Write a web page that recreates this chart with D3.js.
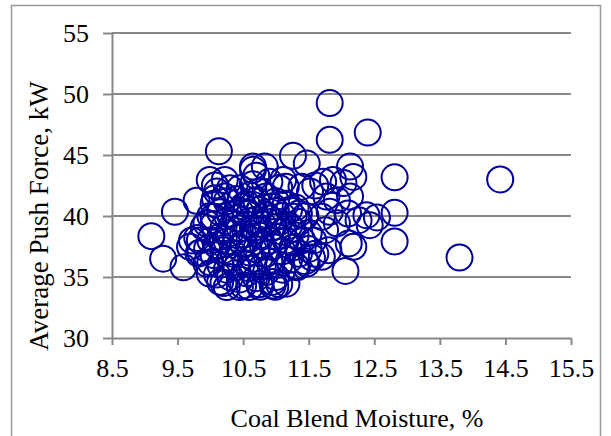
<!DOCTYPE html>
<html>
<head>
<meta charset="utf-8">
<script src="https://cdn.jsdelivr.net/npm/d3@7"></script>
<style>
    body { margin: 0; background: #fff; }
    #chart-area { width: 611px; height: 436px; }
    text { font-family: "Liberation Serif", "Times New Roman", serif; fill: #000; }
</style>
</head>
<body>
<div id="chart-area"></div>
<script>
// Coal blend moisture (%) and average push force (kW)
let moisture = [
    9.1, 9.28, 9.46, 9.59, 9.72, 9.79, 10.13,
    11.82, 11.82, 12.4, 12.81, 12.81, 12.81, 12.54, 12.43, 12.06, 13.8, 14.42,
    11.26, 11.47, 12.18, 12.11, 11.8, 11.7, 11.47, 11.32, 11.16, 10.99, 10.76,
    12.26, 12.38, 11.6, 11.72, 11.87, 12.13, 12.18, 12.03, 11.39, 11.52, 11.77,
    11.93, 12.13, 12.1, 11.93, 11.75, 11.57, 11.82, 11.7, 11.27, 11.11, 10.83,
    10.07, 10.1, 10.07, 9.99, 10.22, 10.22, 10.3, 10.45, 10.65,
    9.69, 9.82, 9.84, 9.94, 9.99, 10.15, 10.25, 10.45, 10.6, 9.94, 10.05,
    10.1, 10.3, 10.45, 10.55, 10.7, 10.85, 10.95, 11.0, 10.2, 10.5, 10.75, 10.95, 11.05,
    10.0, 10.15, 10.3, 10.4, 10.55, 10.65, 10.8, 10.9, 11.05, 11.2, 11.3, 11.45, 11.55, 10.25, 10.6, 11.1,
    9.85, 9.95, 10.05, 10.2, 10.35, 10.45, 10.6, 10.7, 10.85, 10.95, 11.1, 11.25, 11.35, 11.5, 11.6, 10.1, 10.5, 10.8,
    9.8, 10.0, 10.15, 10.25, 10.4, 10.5, 10.6, 10.75, 10.9, 11.0, 11.15, 11.3, 11.4, 11.5, 10.3, 10.7, 11.1, 11.25,
    9.9, 10.05, 10.2, 10.35, 10.45, 10.55, 10.65, 10.8, 10.95, 11.05, 11.2, 11.35, 10.4, 10.7, 10.9,
    10.0, 10.15, 10.3, 10.45, 10.6, 10.75, 10.85, 11.0, 11.1, 11.2, 11.35, 11.45, 10.5, 10.65, 10.95, 11.3,
    10.05, 10.25, 10.4, 10.55, 10.7, 10.85, 11.0, 11.15, 10.6, 10.75, 11.05, 10.65, 10.7, 10.65, 10.9, 11.15
];
let pushForce = [
    38.35, 36.5, 40.35, 35.8, 38.0, 41.25, 45.3,
    49.26, 46.24, 46.84, 43.17, 40.26, 37.91, 39.88, 39.25, 35.5, 36.6, 43.0,
    44.93, 44.3, 37.47, 37.75, 37.2, 36.65, 36.1, 35.8, 34.45, 34.2, 34.2,
    39.66, 40.07, 42.5, 42.8, 42.95, 44.05, 43.2, 42.7, 42.4, 42.0, 41.6,
    41.3, 41.6, 40.2, 39.4, 38.84, 38.0, 40.35, 39.93, 39.93, 42.95, 44.05,
    42.5, 42.0, 41.45, 42.95, 41.6, 42.95, 42.27, 42.27, 44.05,
    37.47, 36.92, 38.0, 36.1, 35.28, 34.6, 34.18, 34.18, 34.18, 39.4, 39.93,
    35.2, 35.0, 34.8, 35.3, 34.9, 35.4, 34.6, 35.0, 34.5, 34.3, 34.4, 34.3, 34.4,
    36.2, 36.0, 36.4, 35.8, 36.1, 36.5, 35.9, 36.3, 36.0, 36.4, 35.9, 36.3, 36.6, 35.6, 35.7, 35.6,
    37.0, 37.3, 36.8, 37.2, 36.9, 37.4, 37.0, 37.3, 36.9, 37.5, 37.1, 37.4, 36.9, 37.3, 36.9, 37.6, 37.7, 37.6,
    38.2, 38.0, 38.3, 37.9, 38.2, 38.5, 38.1, 38.4, 38.0, 38.3, 38.0, 38.4, 38.0, 38.6, 38.6, 38.8, 38.7, 38.9,
    39.1, 39.3, 39.0, 39.4, 39.0, 39.3, 39.0, 39.3, 39.1, 39.5, 39.2, 39.5, 39.8, 39.7, 39.8,
    40.0, 40.3, 40.1, 40.4, 40.2, 40.5, 40.1, 40.4, 40.0, 40.5, 40.2, 40.0, 40.8, 40.9, 40.8, 40.7,
    41.0, 41.2, 41.4, 41.0, 41.3, 41.6, 41.2, 41.0, 41.7, 42.0, 42.3, 42.6, 43.3, 43.8, 42.8, 42.4
];
let xTicks = [8.5, 9.5, 10.5, 11.5, 12.5, 13.5, 14.5, 15.5];
let yTicks = [30, 35, 40, 45, 50, 55];
let xTitle = "Coal Blend Moisture, %";
let yTitle = "Average Push Force, kW";

class ScatterVis {

    constructor(parentElement) {
        this.parentElement = parentElement;
        this.initVis();
    }

    initVis() {
        let vis = this;

        vis.margin = {top: 33, right: 40, bottom: 98, left: 112};
        vis.totalWidth = 611;
        vis.totalHeight = 436;
        vis.width = vis.totalWidth - vis.margin.left - vis.margin.right;
        vis.height = vis.totalHeight - vis.margin.top - vis.margin.bottom;

        vis.root = d3.select("#" + vis.parentElement).append("svg")
            .attr("width", vis.totalWidth)
            .attr("height", vis.totalHeight);

        // outer frame (runs off the bottom of the picture)
        vis.root.append("rect")
            .attr("x", 11.5).attr("y", 5.5)
            .attr("width", 589).attr("height", 450)
            .attr("fill", "none")
            .attr("stroke", "#999")
            .attr("stroke-width", 1.5);

        vis.svg = vis.root.append("g")
            .attr("transform", `translate(${vis.margin.left}, ${vis.margin.top})`);

        vis.x = d3.scaleLinear().domain([8.5, 15.5]).range([0, vis.width]);
        vis.y = d3.scaleLinear().domain([30, 55]).range([vis.height, 0]);

        vis.wrangleData();
    }

    wrangleData() {
        let vis = this;
        vis.displayData = moisture.map((m, i) => ({x: m, y: pushForce[i]}));
        vis.updateVis();
    }

    updateVis() {
        let vis = this;

        // gridlines
        vis.svg.append("g")
            .selectAll("line")
            .data(yTicks.filter(d => d > 30))
            .enter().append("line")
            .attr("x1", 0).attr("x2", vis.width)
            .attr("y1", d => vis.y(d)).attr("y2", d => vis.y(d))
            .attr("stroke", "#888")
            .attr("stroke-width", 2);

        // axes
        vis.yAxis = d3.axisLeft(vis.y).tickValues(yTicks).tickSize(9).tickPadding(14).tickSizeOuter(0);
        vis.xAxis = d3.axisBottom(vis.x).tickValues(xTicks).tickFormat(d3.format(".1f")).tickSize(7).tickPadding(14).tickSizeOuter(0);

        vis.yAxisGroup = vis.svg.append("g").attr("class", "y-axis").call(vis.yAxis);
        vis.xAxisGroup = vis.svg.append("g").attr("class", "x-axis")
            .attr("transform", `translate(0, ${vis.height})`)
            .call(vis.xAxis);

        [vis.xAxisGroup, vis.yAxisGroup].forEach(g => {
            g.select(".domain").attr("stroke", "#888").attr("stroke-width", 2);
            g.selectAll(".tick line").attr("stroke", "#888").attr("stroke-width", 2);
            g.selectAll("text").style("font-size", "26px").style("font-family", "Liberation Serif").attr("fill", "#000");
        });

        // points
        vis.svg.append("g")
            .selectAll("circle")
            .data(vis.displayData)
            .enter().append("circle")
            .attr("cx", d => vis.x(d.x))
            .attr("cy", d => vis.y(d.y))
            .attr("r", 13)
            .attr("fill", "none")
            .attr("stroke", "#00009a")
            .attr("stroke-width", 2);

        // titles
        vis.root.append("text")
            .attr("x", 357).attr("y", 427)
            .attr("text-anchor", "middle")
            .style("font-size", "26px")
            .text(xTitle);

        vis.root.append("text")
            .attr("transform", "translate(48, 216) rotate(-90)")
            .attr("text-anchor", "middle")
            .style("font-size", "27px")
            .text(yTitle);
    }
}

new ScatterVis("chart-area");
</script>
</body>
</html>
